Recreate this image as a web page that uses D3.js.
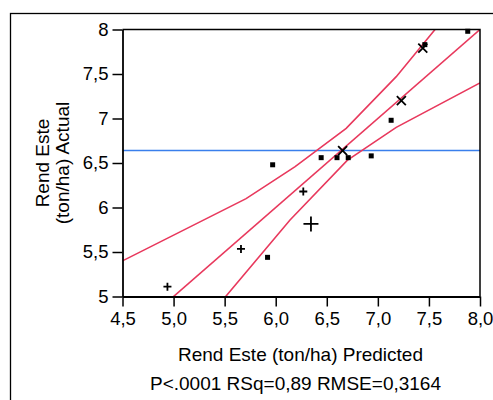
<!DOCTYPE html>
<html>
<head>
<meta charset="utf-8">
<script src="https://cdn.jsdelivr.net/npm/d3@7"></script>
<style>
  html, body { margin: 0; padding: 0; background: #fff; }
  text { font-family: "Liberation Sans", Arial, sans-serif; fill: #000; }
</style>
</head>
<body>
<svg id="chart" width="493" height="400"></svg>
<script>
// ---- data ----
const xTicks = [4.5, 5.0, 5.5, 6.0, 6.5, 7.0, 7.5, 8.0];
const xTickLabels = ["4,5", "5,0", "5,5", "6,0", "6,5", "7,0", "7,5", "8,0"];
const yTicks = [5, 5.5, 6, 6.5, 7, 7.5, 8];
const yTickLabels = ["5", "5,5", "6", "6,5", "7", "7,5", "8"];

// points: [predicted, actual]
const squarePoints = [
  [7.88, 7.98], [7.46, 7.83], [7.13, 6.98], [5.97, 6.48], [6.445, 6.56],
  [6.60, 6.56], [6.71, 6.56], [6.935, 6.58], [5.92, 5.44]
];
const plusPoints = [[4.94, 5.11], [5.66, 5.535], [6.27, 6.18]];
const bigPlusPoints = [[6.345, 5.815]];
const crossPoints = [[7.44, 7.79], [7.23, 7.20], [6.655, 6.64]];

const fitLine = [[4.5, 4.5], [8.0, 8.0]];
const upperCurve = [[4.5, 5.40], [5.71, 6.10], [6.19, 6.46], [6.69, 6.89], [7.18, 7.47], [7.56, 8.0], [7.8, 8.35]];
const lowerCurve = [[5.2, 4.6], [5.51, 5.0], [6.14, 5.86], [6.70, 6.53], [7.18, 6.90], [8.0, 7.40]];
const meanActual = 6.64;

const xTitle = "Rend Este (ton/ha) Predicted";
const yTitle = ["Rend Este", "(ton/ha) Actual"];
const statsText = "P<.0001 RSq=0,89 RMSE=0,3164";

// ---- layout ----
const svg = d3.select("#chart");
const L = 122.5, R = 480, T = 29.5, B = 296.5;
const x = d3.scaleLinear().domain([4.5, 8.0]).range([L, R]);
const y = d3.scaleLinear().domain([5, 8]).range([B, T]);

// outer frame
svg.append("rect").attr("x", 10.5).attr("y", 13.5).attr("width", 500).attr("height", 420)
  .attr("fill", "none").attr("stroke", "#000").attr("stroke-width", 1.3);

// clip
svg.append("clipPath").attr("id", "clip").append("rect")
  .attr("x", L).attr("y", T).attr("width", R - L).attr("height", B - T);

const plot = svg.append("g").attr("clip-path", "url(#clip)");

// mean line
plot.append("line").attr("x1", L).attr("x2", R).attr("y1", y(meanActual)).attr("y2", y(meanActual))
  .attr("stroke", "#3a7fec").attr("stroke-width", 1.6);

const line = d3.line().x(d => x(d[0])).y(d => y(d[1]));
[fitLine, upperCurve, lowerCurve].forEach(c => {
  plot.append("path").attr("d", line(c)).attr("fill", "none")
    .attr("stroke", "#e8395d").attr("stroke-width", 1.6);
});

// markers
const mk = svg.append("g");
mk.selectAll("rect.sq").data(squarePoints).enter().append("rect")
  .attr("x", d => x(d[0]) - 2.5).attr("y", d => y(d[1]) - 2.5)
  .attr("width", 5).attr("height", 5).attr("fill", "#000");

function plus(sel, data, h, sw) {
  sel.selectAll(null).data(data).enter().append("path")
    .attr("d", d => `M${x(d[0]) - h},${y(d[1])}H${x(d[0]) + h}M${x(d[0])},${y(d[1]) - h}V${y(d[1]) + h}`)
    .attr("stroke", "#000").attr("stroke-width", sw).attr("fill", "none");
}
plus(mk, plusPoints, 4, 1.8);
plus(mk, bigPlusPoints, 7.5, 1.8);
mk.selectAll(null).data(crossPoints).enter().append("path")
  .attr("d", d => { const cx = x(d[0]), cy = y(d[1]), h = 4.5;
    return `M${cx - h},${cy - h}L${cx + h},${cy + h}M${cx - h},${cy + h}L${cx + h},${cy - h}`; })
  .attr("stroke", "#000").attr("stroke-width", 1.8).attr("fill", "none");

// plot box top/right
svg.append("path").attr("d", `M${L},${T}H${R}V${B}`).attr("fill", "none")
  .attr("stroke", "#000").attr("stroke-width", 1.5);

// axes
const xAxis = d3.axisBottom(x).tickValues(xTicks).tickFormat((d, i) => xTickLabels[i])
  .tickSize(10).tickPadding(5).tickSizeOuter(0);
const yAxis = d3.axisLeft(y).tickValues(yTicks).tickFormat((d, i) => yTickLabels[i])
  .tickSize(10).tickPadding(4).tickSizeOuter(0);

const gx = svg.append("g").attr("transform", `translate(0,${B})`).call(xAxis);
const gy = svg.append("g").attr("transform", `translate(${L},0)`).call(yAxis);
[gx, gy].forEach(g => {
  g.select(".domain").attr("stroke", "#000").attr("stroke-width", 1.8);
  g.selectAll(".tick line").attr("stroke", "#000").attr("stroke-width", 1.5);
  g.selectAll(".tick text").attr("font-size", 18.5).attr("font-family", "Liberation Sans, Arial, sans-serif").attr("fill", "#000");
});

// titles
svg.append("text").attr("x", 300.5).attr("y", 361).attr("text-anchor", "middle")
  .attr("font-size", 19).text(xTitle);
svg.append("text").attr("x", 295.5).attr("y", 390).attr("text-anchor", "middle")
  .attr("font-size", 19).text(statsText);

const yt = svg.append("text").attr("transform", `translate(0,${(T + B) / 2}) rotate(-90)`)
  .attr("text-anchor", "middle").attr("font-size", 19);
yt.append("tspan").attr("x", 0).attr("y", 49).text(yTitle[0]);
yt.append("tspan").attr("x", 0).attr("y", 69).text(yTitle[1]);
</script>
</body>
</html>
